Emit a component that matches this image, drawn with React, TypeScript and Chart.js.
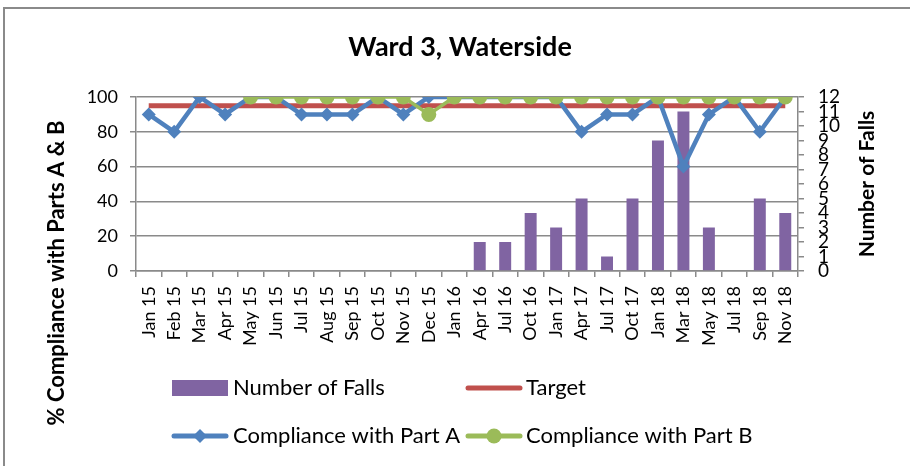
import React, { useEffect, useRef } from 'react';
import { Chart, registerables } from 'chart.js';

Chart.register(...registerables);

const categories = [
  'Jan 15', 'Feb 15', 'Mar 15', 'Apr 15', 'May 15', 'Jun 15', 'Jul 15', 'Aug 15', 'Sep 15',
  'Oct 15', 'Nov 15', 'Dec 15', 'Jan 16', 'Apr 16', 'Jul 16', 'Oct 16', 'Jan 17', 'Apr 17',
  'Jul 17', 'Oct 17', 'Jan 18', 'Mar 18', 'May 18', 'Jul 18', 'Sep 18', 'Nov 18',
];

const numberOfFalls = [
  null, null, null, null, null, null, null, null, null, null, null, null, null,
  2, 2, 4, 3, 5, 1, 5, 9, 11, 3, 0, 5, 4,
];

const target = [
  95, 95, 95, 95, 95, 95, 95, 95, 95, 95, 95, 95, 95,
  95, 95, 95, 95, 95, 95, 95, 95, 95, 95, 95, 95, 95,
];

const partA = [
  90, 80, 100, 90, 100, 100, 90, 90, 90, 100, 90, 100, 100,
  100, 100, 100, 100, 80, 90, 90, 100, 60, 90, 100, 80, 100,
];

const partB = [
  null, null, null, null, 100, 100, 100, 100, 100, 100, 100, 90, 100,
  100, 100, 100, 100, 100, 100, 100, 100, 100, 100, 100, 100, 100,
];

const leftTicks = [0, 20, 40, 60, 80, 100];
const rightTicks = [0, 1, 2, 3, 4, 5, 6, 7, 8, 9, 10, 11, 12];

const TITLE = 'Ward 3, Waterside';
const LEFT_TITLE = '% Compliance with Parts A & B';
const RIGHT_TITLE = 'Number of Falls';

const FONT = 'Lato, "Open Sans", sans-serif';
const GRID = '#8a8a8a';
const PURPLE = '#8064A2';
const RED = '#C0504D';
const BLUE = '#4F81BD';
const GREEN = '#9BBB59';

const textPlugin = {
  id: 'textPlugin',
  afterDraw(chart: any) {
    const ctx = chart.ctx;
    const area = chart.chartArea;
    ctx.save();
    ctx.fillStyle = '#000';
    ctx.textAlign = 'center';
    ctx.textBaseline = 'middle';
    // title
    ctx.font = `bold 27px ${FONT}`;
    ctx.fillText(TITLE, 460, 47);
    // left axis title
    ctx.font = `bold 22px ${FONT}`;
    ctx.save();
    ctx.translate(57, area.bottom + 2);
    ctx.rotate(-Math.PI / 2);
    ctx.fillText(LEFT_TITLE, 0, 0);
    ctx.restore();
    // right axis title
    ctx.font = `bold 21px ${FONT}`;
    ctx.save();
    ctx.translate(867, (area.top + area.bottom) / 2);
    ctx.rotate(-Math.PI / 2);
    ctx.fillText(RIGHT_TITLE, 0, 0);
    ctx.restore();

    // legend
    ctx.font = `22px ${FONT}`;
    ctx.textAlign = 'left';
    const row1 = 388;
    const row2 = 436;
    const c1 = 172;
    const c2 = 466;
    const mw = 56;
    // Number of Falls
    ctx.fillStyle = PURPLE;
    ctx.fillRect(c1, row1 - 8, mw, 16);
    ctx.fillStyle = '#000';
    ctx.fillText('Number of Falls', c1 + mw + 5, row1);
    // Target
    ctx.strokeStyle = RED;
    ctx.lineWidth = 5;
    ctx.lineCap = 'round';
    ctx.beginPath();
    ctx.moveTo(c2 + 2, row1);
    ctx.lineTo(c2 + mw - 2, row1);
    ctx.stroke();
    ctx.fillText('Target', c2 + mw + 4, row1);
    // Part A
    ctx.strokeStyle = BLUE;
    ctx.lineWidth = 5;
    ctx.beginPath();
    ctx.moveTo(c1 + 2, row2);
    ctx.lineTo(c1 + mw - 2, row2);
    ctx.stroke();
    ctx.fillStyle = BLUE;
    const dx = c1 + mw / 2;
    ctx.beginPath();
    ctx.moveTo(dx - 7, row2);
    ctx.lineTo(dx, row2 - 7);
    ctx.lineTo(dx + 7, row2);
    ctx.lineTo(dx, row2 + 7);
    ctx.closePath();
    ctx.fill();
    ctx.fillStyle = '#000';
    ctx.fillText('Compliance with Part A', c1 + mw + 5, row2);
    // Part B
    ctx.strokeStyle = GREEN;
    ctx.lineWidth = 5;
    ctx.beginPath();
    ctx.moveTo(c2 + 2, row2);
    ctx.lineTo(c2 + mw - 2, row2);
    ctx.stroke();
    ctx.fillStyle = GREEN;
    ctx.beginPath();
    ctx.arc(c2 + mw / 2, row2, 7.5, 0, Math.PI * 2);
    ctx.fill();
    ctx.fillStyle = '#000';
    ctx.fillText('Compliance with Part B', c2 + mw + 4, row2);
    ctx.restore();
  },
};

export default function App() {
  const ref = useRef<HTMLCanvasElement | null>(null);

  useEffect(() => {
    if (!ref.current) return;
    const chart = new Chart(ref.current, {
      type: 'bar',
      data: {
        labels: categories,
        datasets: [
          {
            type: 'line',
            label: 'Compliance with Part B',
            data: partB,
            yAxisID: 'y',
            borderColor: GREEN,
            backgroundColor: GREEN,
            borderWidth: 3.5,
            pointStyle: 'circle',
            pointRadius: 7.5,
            pointBorderWidth: 0,
            tension: 0,
            order: 0,
          } as any,
          {
            type: 'line',
            label: 'Compliance with Part A',
            data: partA,
            yAxisID: 'y',
            borderColor: BLUE,
            backgroundColor: BLUE,
            borderWidth: 4.5,
            pointStyle: 'rectRot',
            pointRadius: 7,
            pointBorderWidth: 0,
            tension: 0,
            order: 1,
          } as any,
          {
            type: 'line',
            label: 'Target',
            data: target,
            yAxisID: 'y',
            borderColor: RED,
            backgroundColor: RED,
            borderWidth: 5,
            pointRadius: 0,
            tension: 0,
            order: 2,
          } as any,
          {
            type: 'bar',
            label: 'Number of Falls',
            data: numberOfFalls,
            yAxisID: 'y1',
            backgroundColor: PURPLE,
            barPercentage: 0.47,
            categoryPercentage: 1,
            order: 3,
          } as any,
        ],
      },
      options: {
        animation: false,
        responsive: false,
        maintainAspectRatio: false,
        layout: { padding: { top: 97, left: 0, right: 0, bottom: 0 } },
        plugins: {
          legend: { display: false },
          tooltip: { enabled: false },
          title: { display: false },
        },
        scales: {
          x: {
            offset: true,
            grid: {
              offset: true,
              drawOnChartArea: false,
              drawTicks: true,
              tickLength: 6,
              color: GRID,
              lineWidth: 1.5,
            },
            border: { color: GRID, width: 1.5 },
            ticks: {
              autoSkip: false,
              minRotation: 90,
              maxRotation: 90,
              padding: 9,
              color: '#000',
              font: { family: FONT, size: 18 },
            },
            afterFit: (s: any) => { s.height = 195; },
          },
          y: {
            position: 'left',
            min: 0,
            max: 100,
            afterBuildTicks: (s: any) => { s.ticks = leftTicks.map((v) => ({ value: v })); },
            grid: { color: GRID, lineWidth: 1.5, tickLength: 6 },
            border: { color: GRID, width: 1.5 },
            ticks: {
              autoSkip: false,
              padding: 12,
              color: '#000',
              font: { family: FONT, size: 18 },
            },
            afterFit: (s: any) => { s.width = 136; },
          },
          y1: {
            position: 'right',
            min: 0,
            max: 12,
            afterBuildTicks: (s: any) => { s.ticks = rightTicks.map((v) => ({ value: v })); },
            grid: { drawOnChartArea: false, color: GRID, lineWidth: 1.5, tickLength: 6 },
            border: { color: GRID, width: 1.5 },
            ticks: {
              autoSkip: false,
              padding: 14,
              color: '#000',
              font: { family: FONT, size: 19 },
            },
            afterFit: (s: any) => { s.width = 112; },
          },
        },
      },
      plugins: [textPlugin],
    });
    return () => chart.destroy();
  }, []);

  return (
    <div style={{ position: 'fixed', left: 0, top: 0, width: 910, height: 466, overflow: 'hidden', background: '#fff' }}>
      <div
        style={{
          position: 'absolute',
          left: 3,
          top: 7,
          width: 1000,
          height: 1000,
          borderTop: '2px solid #8a8a8a',
          borderLeft: '2px solid #8a8a8a',
        }}
      />
      <canvas ref={ref} width={910} height={466} style={{ position: 'absolute', left: 0, top: 0, width: 910, height: 466 }} />
    </div>
  );
}
